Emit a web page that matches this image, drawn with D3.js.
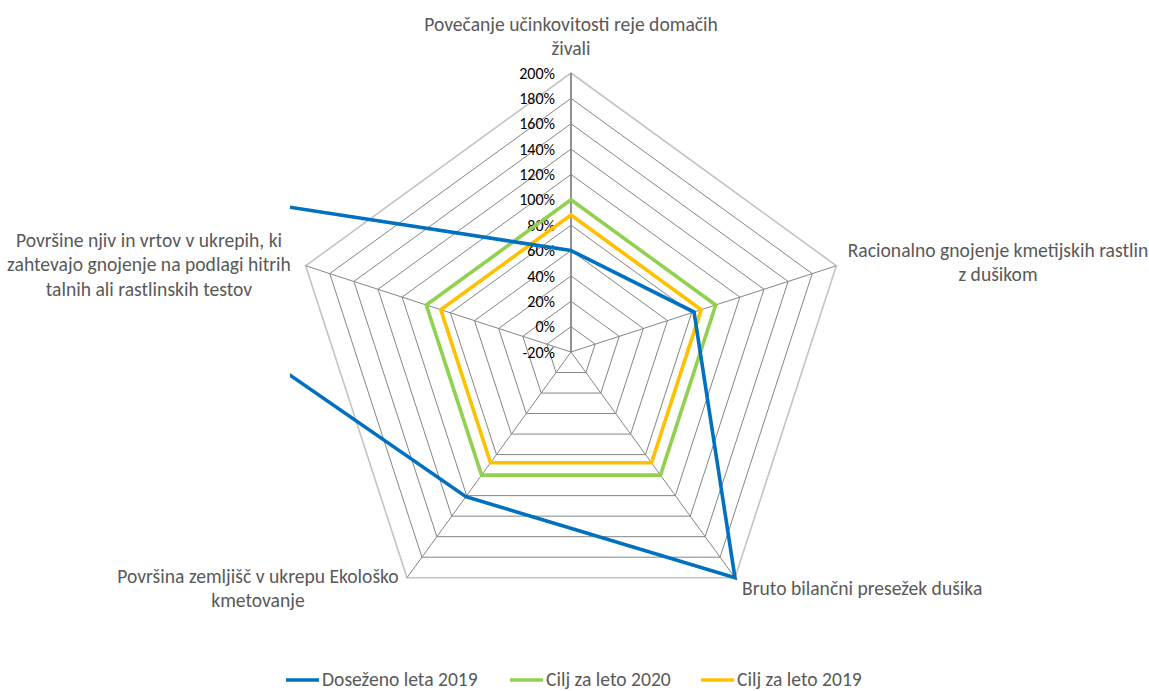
<!DOCTYPE html>
<html>
<head>
<meta charset="utf-8">
<script src="https://cdn.jsdelivr.net/npm/d3@7"></script>
<style>
  html, body { margin: 0; padding: 0; background: #fff; }
  svg { display: block; font-family: Carlito, Lato, "Liberation Sans", sans-serif; }
</style>
</head>
<body>
<svg id="chart" width="1149" height="691"></svg>
<script>
// ---------- data ----------
const categories = [
  ["Povečanje učinkovitosti reje domačih", "živali"],
  ["Racionalno gnojenje kmetijskih rastlin", "z dušikom"],
  ["Bruto bilančni presežek dušika"],
  ["Površina zemljišč v ukrepu Ekološko", "kmetovanje"],
  ["Površine njiv in vrtov v ukrepih, ki", "zahtevajo gnojenje na podlagi hitrih", "talnih ali rastlinskih testov"]
];
const seriesNames = ["Doseženo leta 2019", "Cilj za leto 2020", "Cilj za leto 2019"];
const dosezeno2019 = [60, 82, 200, 121, 472];
const cilj2020 = [100, 100, 100, 100, 100];
const cilj2019 = [88, 88, 88, 88, 88];
const tickValues = [-20, 0, 20, 40, 60, 80, 100, 120, 140, 160, 180, 200];
const tickLabels = ["-20%", "0%", "20%", "40%", "60%", "80%", "100%", "120%", "140%", "160%", "180%", "200%"];

// ---------- layout ----------
const svg = d3.select("#chart");
const cx = 571, cy = 352, R = 279;
const r = d3.scaleLinear().domain([-20, 200]).range([0, R]);
const n = categories.length;
const angle = d3.scaleLinear().domain([0, n]).range([-Math.PI / 2, 1.5 * Math.PI]);
const pt = (i, v) => [cx + r(v) * Math.cos(angle(i)), cy + r(v) * Math.sin(angle(i))];

const colors = ["#0070C0", "#92D050", "#FFC000"];
const seriesData = [dosezeno2019, cilj2020, cilj2019];

// grid rings
const g = svg.append("g");
tickValues.filter(v => v > -20).forEach(v => {
  const pts = d3.range(n).map(i => pt(i, v));
  g.append("path")
    .attr("d", d3.line()(pts) + "Z")
    .attr("fill", "none")
    .attr("stroke", v === 200 ? "#c4c4c4" : "#858585")
    .attr("stroke-width", v === 200 ? 1.6 : 1);
});
// spokes
d3.range(n).forEach(i => {
  const [x, y] = pt(i, 200);
  g.append("line")
    .attr("x1", cx).attr("y1", cy).attr("x2", x).attr("y2", y)
    .attr("stroke", "#858585")
    .attr("stroke-width", i === 0 ? 1.8 : 1);
});

// tick labels
svg.append("g").selectAll("text").data(tickValues).join("text")
  .attr("x", cx - 16)
  .attr("y", v => cy - r(v))
  .attr("dy", "0.35em")
  .attr("text-anchor", "end")
  .attr("font-size", 16)
  .attr("fill", "#000")
  .text((v, i) => tickLabels[i]);

// clip for series
svg.append("clipPath").attr("id", "plotClip")
  .append("rect").attr("x", 290).attr("y", 0).attr("width", 859).attr("height", 691);

const lineGen = d3.lineRadial().angle((d, i) => angle(i) + Math.PI / 2).radius(d => r(d)).curve(d3.curveLinearClosed);
const sg = svg.append("g").attr("clip-path", "url(#plotClip)");
[1, 2, 0].forEach(k => {
  sg.append("path")
    .attr("transform", `translate(${cx},${cy})`)
    .attr("d", lineGen(seriesData[k]))
    .attr("fill", "none")
    .attr("stroke", colors[k])
    .attr("stroke-width", 3.6)
    .attr("stroke-linejoin", "miter");
});

// category labels
const labelPos = [
  { x: 571, y: 24, anchor: "middle" },
  { x: 998, y: 250, anchor: "middle" },
  { x: 742, y: 588, anchor: "start" },
  { x: 258, y: 576, anchor: "middle" },
  { x: 149, y: 240, anchor: "middle" }
];
const lineH = 24.5;
categories.forEach((lines, i) => {
  const t = svg.append("text")
    .attr("font-size", 19.6)
    .attr("fill", "#595959")
    .attr("text-anchor", labelPos[i].anchor);
  lines.forEach((s, j) => {
    t.append("tspan")
      .attr("x", labelPos[i].x)
      .attr("y", labelPos[i].y + j * lineH)
      .attr("dy", "0.35em")
      .text(s);
  });
});

// legend
const legX = [286, 510, 701];
const legY = 679;
seriesNames.forEach((name, k) => {
  svg.append("line")
    .attr("x1", legX[k]).attr("x2", legX[k] + 33)
    .attr("y1", legY + 1).attr("y2", legY + 1)
    .attr("stroke", colors[k]).attr("stroke-width", 3.6);
  svg.append("text")
    .attr("x", legX[k] + 36).attr("y", legY)
    .attr("dy", "0.35em")
    .attr("font-size", 19.6)
    .attr("fill", "#595959")
    .text(name);
});
</script>
</body>
</html>
